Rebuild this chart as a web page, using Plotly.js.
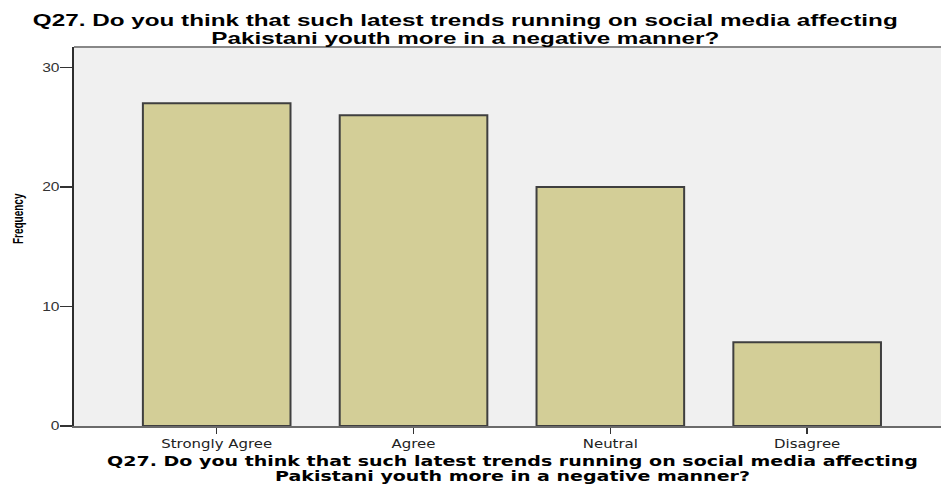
<!DOCTYPE html>
<html>
<head>
<meta charset="utf-8">
<script src="https://cdn.plot.ly/plotly-3.0.1.min.js"></script>
<style>html,body{margin:0;padding:0;background:#fff;}</style>
</head>
<body>
<div id="chart" style="width:941px;height:485px;"></div>
<script>
const categories = ["Strongly Agree", "Agree", "Neutral", "Disagree"];
const frequency = [27, 26, 20, 7];
const yTicks = [0, 10, 20, 30];
const titleLines = ["Q27. Do you think that such latest trends running on social media affecting",
                    "Pakistani youth more in a negative manner?"];
const yTitle = "Frequency";

const STRETCH = 1.3;        // the reference's text is drawn horizontally widened
const TOP_STRETCH = 1.47;
const BOTTOM_STRETCH = 1.43;
const YTITLE_STRETCH = 1.45;

const trace = {
  type: "bar",
  x: categories,
  y: frequency,
  width: 0.75,
  marker: { color: "#d3ce97", line: { color: "#3f3f3f", width: 2 } }
};

const bottomFont = { family: "DejaVu Sans, Verdana, sans-serif", size: 13.3, color: "#000", weight: "bold" };
const topFont = { family: "Liberation Sans, Arial, sans-serif", size: 16.5, color: "#000", weight: "bold" };

const layout = {
  width: 941,
  height: 485,
  margin: { l: 74, r: 0, t: 47, b: 59 },
  paper_bgcolor: "#ffffff",
  plot_bgcolor: "#f0f0f0",
  showlegend: false,
  xaxis: {
    type: "category",
    range: [-0.725, 3.68],
    showgrid: false,
    zeroline: false,
    showline: true,
    linecolor: "#6b6b6b",
    linewidth: 2,
    ticks: "outside",
    ticklen: 6,
    tickwidth: 1.5,
    tickcolor: "#333",
    tickfont: { family: "DejaVu Sans, Verdana, sans-serif", size: 11.5, color: "#222" }
  },
  yaxis: {
    range: [0, 31.7],
    tickvals: yTicks,
    ticktext: yTicks.map(String),
    showgrid: false,
    zeroline: false,
    showline: true,
    linecolor: "#2e2e2e",
    linewidth: 2,
    ticks: "outside",
    ticklen: 12,
    tickwidth: 1.5,
    tickcolor: "#333",
    ticklabelstandoff: -2,
    tickfont: { family: "Liberation Sans, Arial, sans-serif", size: 12, color: "#333" }
  },
  shapes: [
    { type: "line", xref: "paper", yref: "paper", x0: 0, x1: 1, y0: 1, y1: 1,
      line: { color: "#888888", width: 2 } }
  ],
  annotations: [
    { text: titleLines.join("<br>"), xref: "paper", yref: "paper", x: 0.4515, y: 1.099,
      xanchor: "center", yanchor: "top", showarrow: false, align: "center", font: topFont },
    { text: titleLines.join("<br>"), xref: "paper", yref: "paper", x: 0.5058, y: -0.0674,
      xanchor: "center", yanchor: "top", showarrow: false, align: "center", font: bottomFont },
    { text: yTitle, xref: "paper", yref: "paper", x: 0, y: 0.546, xanchor: "center", yanchor: "middle",
      xshift: -56, textangle: -90, showarrow: false,
      font: { family: "Liberation Sans, Arial, sans-serif", size: 10, color: "#000", weight: "bold" } }
  ]
};

const lineGaps = [18.5, 15.5]; // px between the two title lines (top, bottom)

function stretchText(el, mode, s) {
  const bb = el.getBBox();
  const prev = el.getAttribute("transform") || "";
  let t;
  if (mode === "end") {
    const ax = bb.x + bb.width;
    t = ` translate(${ax},0) scale(${s},1) translate(${-ax},0)`;
  } else if (mode === "vertical") {
    const cy = bb.y + bb.height / 2;
    t = ` translate(0,${cy}) scale(1,${s}) translate(0,${-cy})`;
  } else {
    const cx = bb.x + bb.width / 2;
    t = ` translate(${cx},0) scale(${s},1) translate(${-cx},0)`;
  }
  el.setAttribute("transform", prev + t);
}

Plotly.newPlot("chart", [trace], layout, { displayModeBar: false, staticPlot: true }).then(gd => {
  const ann = gd.querySelectorAll(".annotation-text");
  [0, 1].forEach(i => {
    const spans = ann[i].querySelectorAll("tspan.line");
    if (spans.length > 1) spans[1].setAttribute("dy", lineGaps[i] + "px");
  });
  gd.querySelectorAll(".xtick text").forEach(el => stretchText(el, "center", STRETCH));
  gd.querySelectorAll(".ytick text").forEach(el => stretchText(el, "end", STRETCH));
  stretchText(ann[0], "center", TOP_STRETCH);
  stretchText(ann[1], "center", BOTTOM_STRETCH);
  stretchText(ann[2], "vertical", YTITLE_STRETCH);
});
</script>
</body>
</html>
